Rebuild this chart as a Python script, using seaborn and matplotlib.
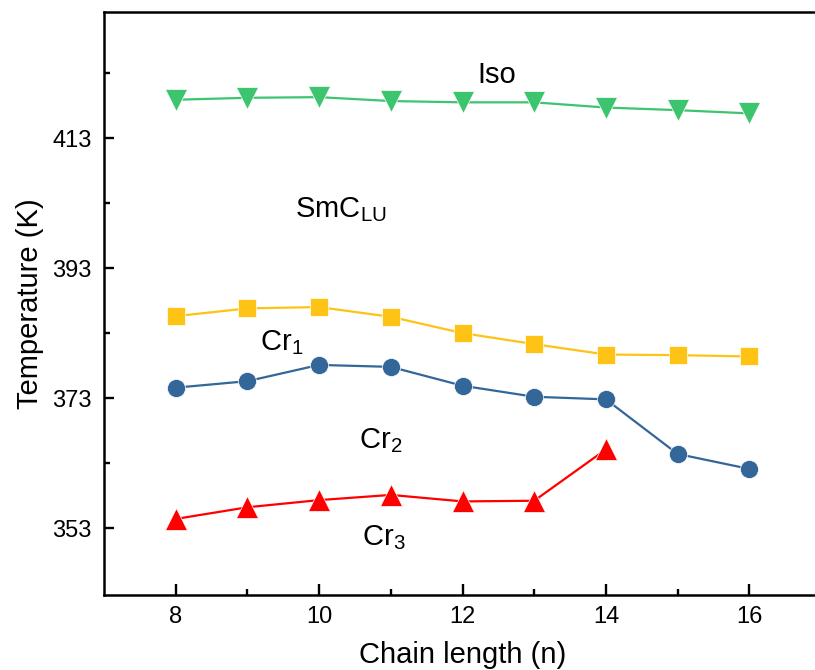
import matplotlib
matplotlib.use("Agg")
import matplotlib.pyplot as plt
import seaborn as sns
import pandas as pd
from matplotlib.ticker import FixedLocator

# Transition temperatures (K) versus alkyl chain length n
chain_n = [8, 9, 10, 11, 12, 13, 14, 15, 16]
iso_T = [418.9, 419.2, 419.3, 418.7, 418.5, 418.5, 417.7, 417.3, 416.8]
cr1_T = [385.6, 386.8, 387.0, 385.5, 383.0, 381.3, 379.7, 379.6, 379.4]
cr2_T = [374.6, 375.6, 378.1, 377.8, 374.9, 373.2, 372.8, 364.4, 362.1]
cr3_n = [8, 9, 10, 11, 12, 13, 14]
cr3_T = [354.4, 356.2, 357.3, 358.1, 357.1, 357.2, 365.1]

y_ticks = [353, 373, 393, 413]
y_minor = [363, 383, 403, 423]
x_ticks = [8, 10, 12, 14, 16]
x_minor = [9, 11, 13, 15]

sns.set_theme(style="ticks")
plt.rcParams["font.family"] = ["Liberation Sans", "DejaVu Sans"]
plt.rcParams["mathtext.fontset"] = "custom"
plt.rcParams["mathtext.rm"] = "Liberation Sans"
plt.rcParams["mathtext.it"] = "Liberation Sans"
plt.rcParams["text.color"] = "black"
plt.rcParams["axes.labelcolor"] = "black"
plt.rcParams["xtick.color"] = "black"
plt.rcParams["ytick.color"] = "black"

fig = plt.figure(figsize=(8.15, 6.70), dpi=100)
ax = fig.add_axes([104 / 815, 1 - 595 / 670, 717 / 815, (595 - 12) / 670])

series = [
    (chain_n, iso_T, "#3dc46f", "v", 16.5),
    (chain_n, cr1_T, "#fec314", "s", 12.5),
    (chain_n, cr2_T, "#336699", "o", 13),
    (cr3_n, cr3_T, "#ff0000", "^", 16.5),
]
for xs, ys, col, mk, ms in series:
    df = pd.DataFrame({"n": xs, "T": ys})
    sns.lineplot(data=df, x="n", y="T", ax=ax, color=col, marker=mk,
                 markersize=ms, markeredgewidth=0.5, markeredgecolor="white",
                 linewidth=1.6)

ax.set_xlim(7, 17)
ax.set_ylim(342.7, 432.4)
ax.set_xticks(x_ticks)
ax.set_yticks(y_ticks)
ax.xaxis.set_minor_locator(FixedLocator(x_minor))
ax.yaxis.set_minor_locator(FixedLocator(y_minor))
ax.tick_params(axis="x", which="major", length=8, width=1.7, labelsize=17,
               direction="in", pad=8)
ax.tick_params(axis="y", which="major", length=7.5, width=1.7, labelsize=17,
               direction="in", pad=9)
ax.tick_params(axis="both", which="minor", length=4, width=1.7, direction="in")
for s in ax.spines.values():
    s.set_linewidth(1.8)
    s.set_color("black")

ax.set_xlabel("Chain length (n)", fontsize=21, labelpad=9)
ax.set_ylabel("Temperature (K)", fontsize=21, labelpad=6)

text_kw = dict(fontsize=21, ha="left", va="baseline")
ax.text(12.21, 421.5, "Iso", **text_kw)
ax.text(9.66, 400.9, r"SmC$_\mathrm{LU}$", **text_kw)
ax.text(9.17, 380.4, r"Cr$_\mathrm{1}$", **text_kw)
ax.text(10.56, 365.3, r"Cr$_\mathrm{2}$", **text_kw)
ax.text(10.6, 350.4, r"Cr$_\mathrm{3}$", **text_kw)

fig.savefig("out.png", dpi=100)
